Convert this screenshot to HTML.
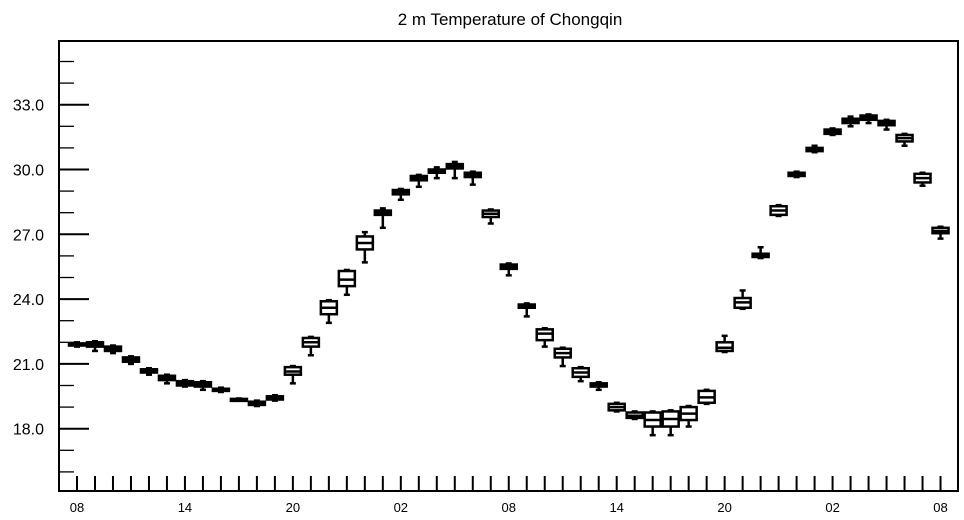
<!DOCTYPE html>
<html><head><meta charset="utf-8"><style>
html,body{margin:0;padding:0;background:#fff;}
svg{display:block;font-family:"Liberation Sans",Arial,sans-serif;}
</style></head><body>
<svg id="chart" width="964" height="520" viewBox="0 0 964 520">
<text x="510" y="25" text-anchor="middle" font-size="17">2 m Temperature of Chongqin</text>
<g id="axes"></g>
<g id="boxes"></g>
<rect x="59" y="41" width="899" height="450" fill="none" stroke="#000" stroke-width="2"/>
</svg>
<script>
const hourLabels = ["08","14","20","02","08","14","20","02","08"];
const yTickValues = [18,21,24,27,30,33];
const yMinorValues = [16,17,19,20,22,23,25,26,28,29,31,32,34,35];
const medians = [21.9,21.9,21.7,21.2,20.7,20.35,20.1,20.05,19.8,19.35,19.2,19.4,20.65,22.0,23.6,24.9,26.6,28.0,28.95,29.6,29.95,30.15,29.75,27.95,25.5,23.7,22.4,21.5,20.6,20.05,19.0,18.6,18.4,18.45,18.7,19.45,21.75,23.85,26.0,28.1,29.75,30.95,31.75,32.25,32.4,32.15,31.45,29.6,27.15];
const q1s = [21.85,21.8,21.6,21.1,20.6,20.25,20.0,19.95,19.75,19.32,19.1,19.35,20.5,21.8,23.3,24.6,26.3,27.9,28.85,29.5,29.85,30.05,29.65,27.8,25.4,23.6,22.1,21.3,20.4,19.95,18.85,18.5,18.1,18.1,18.4,19.2,21.6,23.6,25.95,27.9,29.7,30.85,31.65,32.15,32.3,32.05,31.3,29.4,27.05];
const q3s = [21.95,22.0,21.8,21.3,20.75,20.45,20.2,20.15,19.85,19.38,19.25,19.5,20.85,22.2,23.9,25.3,26.9,28.1,29.05,29.7,30.0,30.25,29.85,28.1,25.6,23.75,22.6,21.7,20.8,20.1,19.15,18.75,18.75,18.8,19.0,19.75,22.0,24.05,26.1,28.3,29.85,31.0,31.85,32.35,32.5,32.25,31.6,29.8,27.3];
const mins = [21.8,21.6,21.5,21.0,20.5,20.1,19.95,19.8,19.7,19.3,19.05,19.3,20.1,21.4,22.9,24.2,25.7,27.3,28.6,29.2,29.6,29.6,29.3,27.5,25.1,23.2,21.8,20.9,20.2,19.8,18.8,18.45,17.7,17.7,18.1,19.15,21.55,23.55,25.9,27.85,29.65,30.8,31.6,32.0,32.15,31.85,31.1,29.25,26.8];
const maxs = [22.0,22.05,21.85,21.35,20.8,20.5,20.25,20.2,19.9,19.4,19.3,19.55,20.9,22.25,23.95,25.35,27.1,28.2,29.1,29.75,30.1,30.35,29.9,28.15,25.65,23.8,22.65,21.75,20.85,20.15,19.2,18.8,18.8,18.85,19.05,19.8,22.3,24.4,26.4,28.35,29.9,31.1,31.9,32.45,32.55,32.3,31.65,29.85,27.35];

const NS="http://www.w3.org/2000/svg";
const X=i=>77+17.99*i;
const Y=v=>428.7-(v-18)*21.6;
const axes=document.getElementById('axes');
const boxes=document.getElementById('boxes');
function mk(tag,attrs,parent){const e=document.createElementNS(NS,tag);for(const k in attrs)e.setAttribute(k,attrs[k]);parent.appendChild(e);return e;}

yTickValues.forEach(v=>{
  const t=mk('line',{x1:59,x2:89,y1:Y(v),y2:Y(v),stroke:'#000','stroke-width':2},axes);
  
  
  const l=mk('text',{x:44,y:Y(v)+6,'text-anchor':'end','font-size':16},axes);
  l.textContent=v.toFixed(1);
  
  
});
yMinorValues.forEach(v=>{
  const t=mk('line',{x1:59,x2:74,y1:Y(v),y2:Y(v),stroke:'#000','stroke-width':1.3},axes);
  
  
});
for(let i=0;i<medians.length;i++){
  const t=mk('line',{x1:X(i),x2:X(i),y1:491,y2:476,stroke:'#000','stroke-width':2},axes);
  
  
}
hourLabels.forEach((s,k)=>{
  const l=mk('text',{x:X(k*6),y:512,'text-anchor':'middle','font-size':13},axes);
  l.textContent=s;
  
  
});
medians.forEach((m,i)=>{
  const g=mk('g',{stroke:'#000',fill:'none','stroke-width':2.5},boxes);
  
  
  const x=X(i), w=8;
  mk('line',{x1:x,x2:x,y1:Y(q1s[i]),y2:Y(mins[i])},g);
  mk('line',{x1:x,x2:x,y1:Y(q3s[i]),y2:Y(maxs[i])},g);
  mk('line',{x1:x-3,x2:x+3,y1:Y(mins[i]),y2:Y(mins[i])},g);
  mk('line',{x1:x-3,x2:x+3,y1:Y(maxs[i]),y2:Y(maxs[i])},g);
  const top=Y(q3s[i]), h=Math.max(Y(q1s[i])-top,2);
  mk('rect',{x:x-w,y:top,width:2*w,height:h,fill:'#fff'},g);
  mk('line',{x1:x-w,x2:x+w,y1:Y(m),y2:Y(m)},g);
});
</script>
</body></html>
